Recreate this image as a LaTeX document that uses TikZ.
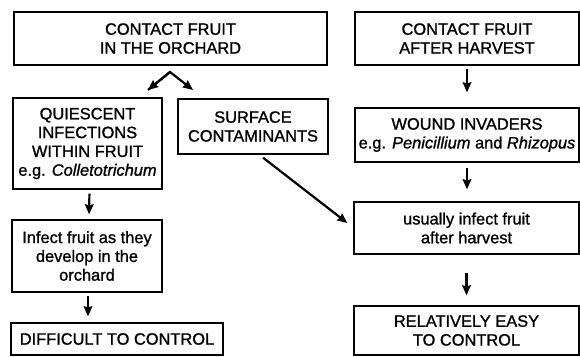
\documentclass[tikz,border=0pt]{standalone}
\usepackage{fontspec}
\setmainfont{Liberation Sans}[RawFeature={embolden=1.2}]
\usetikzlibrary{arrows.meta,calc}
\begin{document}
\begin{tikzpicture}[x=1pt,y=-1pt,
  box/.style={draw, line width=1.3pt, rectangle, inner sep=0pt, align=center,
    font=\fontsize{16.4}{18.8}\selectfont},
  arr/.style={line width=2.2pt, -{Stealth[length=10pt,width=8.5pt,inset=1pt]}},
  ]
\useasboundingbox (0,0) rectangle (580,356);
\newcommand{\bx}[6]{\node[box, minimum width=#4-#2, minimum height=#5-#3] (#1) at ({(#2+#4)/2},{(#3+#5)/2}) {#6};}
\bx{b1}{14}{12}{327}{65}{CONTACT FRUIT\\IN THE ORCHARD}
\bx{b2}{355}{12}{579}{65}{CONTACT FRUIT\\AFTER HARVEST}
\bx{q}{13}{98}{162}{189}{QUIESCENT\\INFECTIONS\\WITHIN FRUIT\\e.g. \textit{Colletotrichum}}
\bx{s}{178}{99}{328}{154}{SURFACE\\CONTAMINANTS}
\bx{w}{355}{108}{579}{162}{WOUND INVADERS\\e.g. \textit{Penicillium} and \textit{Rhizopus}}
\bx{u}{354}{202}{579}{254}{usually infect fruit\\after harvest}
\bx{i}{12}{220}{162}{292}{Infect fruit as they\\develop in the\\orchard}
\bx{d}{11}{323}{223}{355}{DIFFICULT TO CONTROL}
\bx{r}{354}{306}{579}{355}{RELATIVELY EASY\\TO CONTROL}
\coordinate (peak) at (170,72);
\coordinate (tipL) at (148,90);
\coordinate (tipR) at (193,90);
\draw[arr, line join=miter] (tipL) -- (peak) -- (tipR);
\draw[arr] (peak) -- (tipL);
\draw[arr, shorten <=3pt, shorten >=15pt] (b2.south) -- (w.north);
\draw[arr, shorten <=5pt, shorten >=12pt] (w.south) -- ([xshift=0.5pt]u.north);
\draw[arr, shorten <=18pt, shorten >=10pt] (u.south) -- (r.north);
\draw[arr, shorten <=4pt, shorten >=5pt] ([xshift=2pt]q.south) -- ([xshift=2pt]i.north);
\draw[arr, shorten <=3pt, shorten >=6pt] ([xshift=1pt]i.south) -- ([xshift=1pt]i.south |- d.north);
\coordinate (ds) at ([xshift=10pt,yshift=-3pt]s.south);
\draw[arr] (ds) -- ([xshift=-6pt,yshift=5pt]u.west);
\end{tikzpicture}
\end{document}
